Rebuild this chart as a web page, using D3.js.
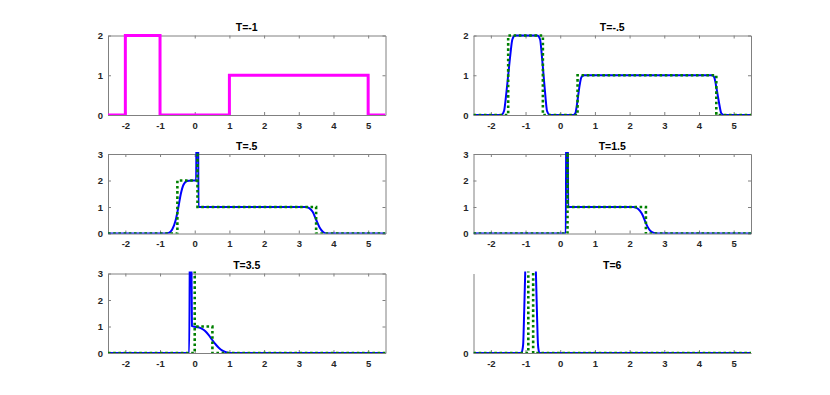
<!DOCTYPE html>
<html>
<head>
<meta charset="utf-8">
<script src="https://cdn.jsdelivr.net/npm/d3@7"></script>
<style>
  body { margin: 0; background: #fff; }
  svg { display: block; }
  .axis text { font-family: "Liberation Sans", Arial, sans-serif; font-size: 9.5px; font-weight: bold; fill: #262626; }
  .axis path, .axis line { stroke: #808080; }
  .title { font-family: "Liberation Sans", Arial, sans-serif; font-size: 10.5px; font-weight: bold; fill: #000; }
</style>
</head>
<body>
<svg id="chart"></svg>
<script>
// shared axis settings
const xTicks = [-2, -1, 0, 1, 2, 3, 4, 5];
const xDomain = [-2.5, 5.5];
const titles = ["T=-1", "T=-.5", "T=.5", "T=1.5", "T=3.5", "T=6"];
const yMaxes = [2, 2, 3, 3, 3, 3];
// last panel shows no box and only the zero label on its y axis
const boxed = [true, true, true, true, true, false];
const yTickSets = [[0, 1, 2], [0, 1, 2], [0, 1, 2, 3], [0, 1, 2, 3], [0, 1, 2, 3], [0]];

// T=-1 : initial data (magenta)
const m1X = [-2.5, -2, -2, -1, -1, 1, 1, 5, 5, 5.5];
const m1Y = [0, 0, 2, 2, 0, 0, 1, 1, 0, 0];

// T=-.5
const g2X = [-2.5, -1.5, -1.5, -0.5, -0.5, 0.5, 0.5, 4.5, 4.5, 5.5];
const g2Y = [0, 0, 2, 2, 0, 0, 1, 1, 0, 0];
const b2X = [-2.5, -1.70, -1.62, -1.56, -1.50, -1.44, -1.38, -1.30, -0.66, -0.58, -0.53, -0.48, -0.43, -0.38, -0.30,
             0.38, 0.44, 0.48, 0.52, 0.56, 0.61, 0.68, 4.38, 4.44, 4.49, 4.54, 4.59, 4.64, 4.72, 5.5];
const b2Y = [0, 0, 0.1, 0.5, 1.0, 1.5, 1.9, 2, 2, 1.9, 1.5, 1.0, 0.5, 0.1, 0,
             0, 0.05, 0.25, 0.5, 0.75, 0.95, 1, 1, 0.95, 0.75, 0.5, 0.25, 0.05, 0, 0];

// T=.5
const g3X = [-2.5, -0.5, -0.5, 0.08, 0.08, 0.08, 3.5, 3.5, 5.5];
const g3Y = [0, 0, 2, 2, 6, 1, 1, 0, 0];
const b3X = [-2.5, -0.85, -0.75, -0.65, -0.55, -0.47, -0.40, -0.32, -0.22, -0.10, 0.04, 0.06, 0.09, 0.11,
             3.2, 3.3, 3.4, 3.5, 3.6, 3.7, 3.8, 5.5];
const b3Y = [0, 0, 0.02, 0.15, 0.5, 1.0, 1.5, 1.85, 1.98, 2, 2, 6, 6, 1,
             1, 0.96, 0.82, 0.52, 0.23, 0.06, 0, 0];

// T=1.5
const g4X = [-2.5, 0.21, 0.21, 0.21, 2.47, 2.47, 5.5];
const g4Y = [0, 0, 6, 1, 1, 0, 0];
const b4X = [-2.5, 0.16, 0.18, 0.21, 0.23, 2.1, 2.2, 2.3, 2.38, 2.45, 2.52, 2.6, 2.7, 2.8, 5.5];
const b4Y = [0, 0, 6, 6, 1, 1, 0.97, 0.85, 0.68, 0.45, 0.25, 0.1, 0.02, 0, 0];

// T=3.5
const g5X = [-2.5, 0, 0, 0, 0.51, 0.51, 5.5];
const g5Y = [0, 0, 6, 1, 1, 0, 0];
const b5X = [-2.5, -0.16, -0.13, -0.11, -0.08, -0.04, 0.1, 0.2, 0.3, 0.4, 0.5, 0.6, 0.7, 0.8, 0.9, 1.0, 5.5];
const b5Y = [0, 0, 6, 6, 1.02, 1.0, 0.97, 0.92, 0.83, 0.68, 0.5, 0.33, 0.19, 0.09, 0.03, 0, 0];

// T=6
const g6X = [-2.5, -0.92, -0.92, -0.78, -0.78, 5.5];
const g6Y = [0, 0, 10, 10, 0, 0];
const b6X = [-2.5, -1.12, -1.07, -1.04, -1.01, -0.95, -0.76, -0.70, -0.67, -0.64, -0.60, 5.5];
const b6Y = [0, 0, 0.3, 1.5, 3, 8, 8, 3, 1.5, 0.3, 0, 0];

const series = [
  [{ x: m1X, y: m1Y, kind: "magenta" }],
  [{ x: b2X, y: b2Y, kind: "blue" }, { x: g2X, y: g2Y, kind: "green" }],
  [{ x: b3X, y: b3Y, kind: "blue" }, { x: g3X, y: g3Y, kind: "green" }],
  [{ x: b4X, y: b4Y, kind: "blue" }, { x: g4X, y: g4Y, kind: "green" }],
  [{ x: b5X, y: b5Y, kind: "blue" }, { x: g5X, y: g5Y, kind: "green" }],
  [{ x: b6X, y: b6Y, kind: "blue" }, { x: g6X, y: g6Y, kind: "green" }]
];

const styles = {
  magenta: { stroke: "#ff00ff", width: 3, dash: null, curve: d3.curveLinear },
  blue: { stroke: "#0000ff", width: 2, dash: null, curve: d3.curveMonotoneX },
  green: { stroke: "#008000", width: 2.6, dash: "2.6,2.6", curve: d3.curveLinear }
};

// layout
const width = 830, height = 395;
const colLeft = [108, 473.5];
const rowTop = [35.5, 154, 273.5];
const pw = 277.5, ph = 79.5;

const svg = d3.select("#chart").attr("width", width).attr("height", height);

titles.forEach((title, i) => {
  const col = i % 2, row = Math.floor(i / 2);
  const g = svg.append("g").attr("transform", `translate(${colLeft[col]},${rowTop[row]})`);

  const x = d3.scaleLinear().domain(xDomain).range([0, pw]);
  const y = d3.scaleLinear().domain([0, yMaxes[i]]).range([ph, 0]);
  const yTicks = yTickSets[i];

  // clip
  g.append("clipPath").attr("id", "clip" + i)
    .append("rect").attr("x", 0).attr("y", -2).attr("width", pw).attr("height", ph + 2);

  // axes (box with inward ticks)
  g.append("g").attr("class", "axis")
    .attr("transform", `translate(0,${ph})`)
    .call(d3.axisBottom(x).tickValues(xTicks).tickSize(-3).tickSizeOuter(0).tickPadding(7).tickFormat(d => String(d)));
  g.append("g").attr("class", "axis")
    .call(d3.axisLeft(y).tickValues(yTicks).tickSize(-3).tickSizeOuter(0).tickPadding(5).tickFormat(d => String(d)));
  if (boxed[i]) {
    g.append("g").attr("class", "axis")
      .call(d3.axisTop(x).tickValues(xTicks).tickSize(-3).tickSizeOuter(0).tickFormat(""));
    g.append("g").attr("class", "axis")
      .attr("transform", `translate(${pw},0)`)
      .call(d3.axisRight(y).tickValues(yTicks).tickSize(-3).tickSizeOuter(0).tickFormat(""));
  }

  // lines
  const plot = g.append("g").attr("clip-path", `url(#clip${i})`);
  series[i].forEach(s => {
    const st = styles[s.kind];
    const pts = s.x.map((v, k) => [v, s.y[k]]);
    const line = d3.line().x(d => x(d[0])).y(d => y(d[1])).curve(st.curve);
    plot.append("path")
      .attr("d", line(pts))
      .attr("fill", "none")
      .attr("stroke", st.stroke)
      .attr("stroke-width", st.width)
      .attr("stroke-dasharray", st.dash)
      .attr("stroke-linejoin", "miter");
  });

  // title
  g.append("text").attr("class", "title")
    .attr("x", pw / 2).attr("y", -4.5)
    .attr("text-anchor", "middle")
    .text(title);
});
</script>
</body>
</html>
